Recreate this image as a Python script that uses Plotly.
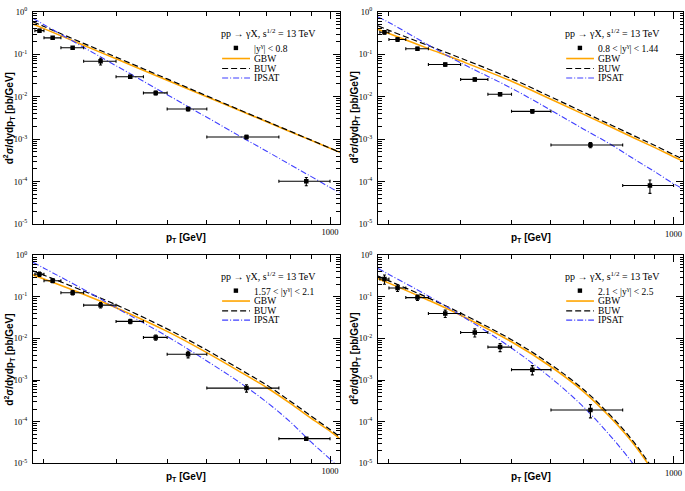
import plotly.graph_objects as go

# pT bins of the measurement (GeV)
bin_edges = [190, 200, 220, 250, 300, 350, 400, 500, 750, 1000]
pt_points = [(lo + hi) / 2 for lo, hi in zip(bin_edges[:-1], bin_edges[1:])]

rap_labels = ["|y<sup>γ</sup>| < 0.8", "0.8 < |y<sup>γ</sup>| < 1.44",
              "1.57 < |y<sup>γ</sup>| < 2.1", "2.1 < |y<sup>γ</sup>| < 2.5"]

# measured cross sections [pb/GeV] and relative errors
data_1 = [0.361, 0.244, 0.1425, 0.0685, 0.0295, 0.0123, 0.00513, 0.00112, 1.02e-4]
data_2 = [0.330, 0.223, 0.135, 0.0573, 0.0256, 0.01145, 0.00452, 7.3e-4, 8.1e-5]
data_3 = [0.352, 0.245, 0.126, 0.0633, 0.0257, 0.0106, 0.00417, 6.4e-4, 3.9e-5]
data_4 = [0.268, 0.164, 0.096, 0.040, 0.0139, 0.0062, 0.00178, 1.9e-4]
err_1 = [0.08, 0.06, 0.07, 0.18, 0.09, 0.10, 0.10, 0.10, 0.22]
err_2 = [0.10, 0.10, 0.08, 0.08, 0.08, 0.08, 0.10, 0.14, 0.35]
err_3 = [0.12, 0.10, 0.12, 0.15, 0.12, 0.14, 0.18, 0.20, 0.05]
err_4 = [0.25, 0.18, 0.15, 0.20, 0.22, 0.22, 0.25, 0.35]

# model curves
pt_curve = [188, 200, 250, 300, 400, 500, 600, 700, 800, 900, 1000, 1060]
gbw_1 = [0.516, 0.403, 0.163, 0.0782, 0.0245, 0.00998, 0.00478, 0.00258, 0.00150, 9.35e-4, 6.08e-4, 4.84e-4]
buw_1 = [0.586, 0.452, 0.181, 0.0857, 0.0263, 0.01045, 0.00494, 0.00264, 0.00153, 9.46e-4, 6.15e-4, 4.84e-4]
ipsat_1 = [0.700, 0.499, 0.146, 0.0538, 0.01114, 0.00327, 0.00120, 5.2e-4, 2.49e-4, 1.31e-4, 7.3e-5, 5.4e-5]

gbw_2 = [0.389, 0.309, 0.136, 0.070, 0.0232, 0.00871, 0.00389, 0.00195, 0.00107, 6.31e-4, 3.85e-4, 2.95e-4]
buw_2 = [0.468, 0.367, 0.160, 0.0813, 0.0266, 0.00989, 0.00437, 0.00219, 0.00120, 7.08e-4, 4.32e-4, 3.31e-4]
ipsat_2 = [0.759, 0.562, 0.166, 0.0631, 0.01585, 0.00479, 0.00174, 7.59e-4, 3.39e-4, 1.70e-4, 8.9e-5, 6.6e-5]

gbw_3 = [0.339, 0.269, 0.115, 0.055, 0.0148, 0.00457, 0.00162, 6.61e-4, 2.75e-4, 1.20e-4, 5.9e-5, 3.8e-5]
buw_3 = [0.422, 0.331, 0.138, 0.0646, 0.0170, 0.00525, 0.00186, 7.59e-4, 3.09e-4, 1.35e-4, 6.5e-5, 4.2e-5]
ipsat_3 = [0.676, 0.490, 0.151, 0.055, 0.0112, 0.00288, 8.9e-4, 2.95e-4, 9.8e-5, 3.2e-5, 1.26e-5, 7.2e-6]

gbw_4 = [0.275, 0.214, 0.0832, 0.0363, 0.00832, 0.00209, 5.37e-4, 1.26e-4, 2.82e-5, 5.4e-6, 9.0e-7]
buw_4 = [0.316, 0.243, 0.0944, 0.0407, 0.00933, 0.00234, 6.03e-4, 1.41e-4, 3.16e-5, 6.0e-6, 1.0e-6]
ipsat_4 = [0.479, 0.347, 0.105, 0.0363, 0.00589, 0.00112, 2.29e-4, 4.5e-5, 8.9e-6, 1.5e-6, 2.2e-7]

panels = [
    (data_1, err_1, gbw_1, buw_1, ipsat_1),
    (data_2, err_2, gbw_2, buw_2, ipsat_2),
    (data_3, err_3, gbw_3, buw_3, ipsat_3),
    (data_4, err_4, gbw_4, buw_4, ipsat_4),
]

W, H = 685, 491
# plot areas in pixels: left, right, top, bottom
boxes = [(33, 339.5, 6, 223), (378, 683, 6, 223),
         (33, 339.5, 255, 467.7), (378, 683, 255, 467.7)]

ORANGE = "#FFA500"
BLUE = "#3f3fff"
serif = "Liberation Serif"
sans = "Liberation Sans"

fig = go.Figure()
shapes = []
annotations = []

ymaj = [10.0 ** k for k in range(-5, 1)]
ymin = [m * 10.0 ** k for k in range(-5, 0) for m in range(2, 10)]

for i, (data, err, gbw, buw, ipsat) in enumerate(panels):
    n = i + 1
    xa = "x" if n == 1 else f"x{n}"
    ya = "y" if n == 1 else f"y{n}"
    npt = len(data)
    xs = pt_curve[:len(gbw)]

    fig.add_trace(go.Scatter(x=xs, y=gbw, mode="lines", line=dict(color=ORANGE, width=1.6, shape="spline"),
                             xaxis=xa, yaxis=ya, showlegend=False))
    fig.add_trace(go.Scatter(x=xs, y=buw, mode="lines", line=dict(color="black", width=1.2, dash="6px,3px", shape="spline"),
                             xaxis=xa, yaxis=ya, showlegend=False))
    fig.add_trace(go.Scatter(x=xs, y=ipsat, mode="lines", line=dict(color=BLUE, width=1.1, dash="6px,2px,1px,2px", shape="spline"),
                             xaxis=xa, yaxis=ya, showlegend=False))

    xp = pt_points[:npt]
    fig.add_trace(go.Scatter(
        x=xp, y=data, mode="markers",
        marker=dict(symbol="square", size=4.5, color="black"),
        error_x=dict(type="data", symmetric=False,
                     array=[bin_edges[k + 1] - xp[k] for k in range(npt)],
                     arrayminus=[xp[k] - bin_edges[k] for k in range(npt)],
                     color="black", thickness=1.1, width=1.5),
        error_y=dict(type="data", array=[d * e for d, e in zip(data, err)],
                     color="black", thickness=1.1, width=1.5),
        xaxis=xa, yaxis=ya, showlegend=False))

    l, r, t, b = boxes[i]
    right_col = n in (2, 4)
    axis_common = dict(type="log", showline=True, linecolor="black", linewidth=1, mirror="allticks",
                       ticks="inside", tickcolor="black", showgrid=False, zeroline=False,
                       tickfont=dict(family=serif, size=8.5, color="black"))
    fig.update_layout(**{
        ("xaxis" if n == 1 else f"xaxis{n}"): dict(
            axis_common, domain=[l / W, r / W], anchor=ya, range=[2.2742, 3.0232],
            tickvals=[1000], ticktext=["1000"], ticklen=7, showticklabels=not right_col,
            minor=dict(tickvals=[200, 300, 400, 500, 600, 700, 800, 900], ticklen=4,
                       ticks="inside", tickcolor="black", showgrid=False)),
        ("yaxis" if n == 1 else f"yaxis{n}"): dict(
            axis_common, domain=[1 - b / H, 1 - t / H], anchor=xa, range=[-5, 0],
            tickvals=ymaj, ticktext=[f"10<sup>{k}</sup>" for k in range(-5, 1)], ticklen=7,
            ticklabelstandoff=3,
            minor=dict(tickvals=ymin, ticklen=3.5, ticks="inside", tickcolor="black", showgrid=False)),
    })

    xd = f"{xa} domain"
    yd = f"{ya} domain"
    if right_col:
        # plotly drops the edge tick label here, so write it at the 1000 tick
        annotations.append(dict(xref=xa, yref=yd, x=3, y=-0.014, xanchor="center", yanchor="top",
                                showarrow=False, text="1000", font=dict(family=serif, size=8.5, color="black")))
    # axis titles
    annotations.append(dict(xref=xd, yref=yd, x=0.5, y=-0.068, showarrow=False, yanchor="middle",
                            text="<b>p<sub>T</sub> [GeV]</b>", font=dict(family=sans, size=10, color="black")))
    annotations.append(dict(xref=xd, yref=yd, x=-0.077, y=0.5, showarrow=False, textangle=-90,
                            xanchor="center", yanchor="middle",
                            text="<b>d<sup>2</sup>σ/dydp<sub>T</sub> [pb/GeV]</b>",
                            font=dict(family=sans, size=10, color="black")))
    # key
    annotations.append(dict(xref=xd, yref=yd, x=0.607, y=0.90, xanchor="left", yanchor="middle", showarrow=False,
                            text="pp → γX, s<sup>1/2</sup> = 13 TeV", font=dict(family=serif, size=10, color="black")))
    rows = [0.83, 0.78, 0.733, 0.688]
    labels = [rap_labels[i], "GBW", "BUW", "IPSAT"]
    for ry, lab in zip(rows, labels):
        annotations.append(dict(xref=xd, yref=yd, x=0.716, y=ry, xanchor="left", yanchor="middle", showarrow=False,
                                text=lab, font=dict(family=serif, size=9.5, color="black")))
    shapes.append(dict(type="rect", xref=xd, yref=yd, xsizemode="pixel", ysizemode="pixel",
                       xanchor=0.662, yanchor=rows[0], x0=-2.2, x1=2.2, y0=-2.2, y1=2.2,
                       fillcolor="black", line=dict(width=0)))
    key_styles = [dict(color=ORANGE, width=1.6), dict(color="black", width=1.2, dash="6px,3px"),
                  dict(color=BLUE, width=1.1, dash="6px,2px,1px,2px")]
    for ry, st in zip(rows[1:], key_styles):
        shapes.append(dict(type="line", xref=xd, yref=yd, x0=0.617, x1=0.708, y0=ry, y1=ry, line=st))

fig.update_layout(width=W, height=H, margin=dict(l=0, r=0, t=0, b=0),
                  plot_bgcolor="white", paper_bgcolor="white",
                  shapes=shapes, annotations=annotations, showlegend=False)

# drop the default page margin so the figure sits at the window corner
fig.write_html("out.html", config={"displayModeBar": False},
               post_script="document.body.style.margin='0';")
